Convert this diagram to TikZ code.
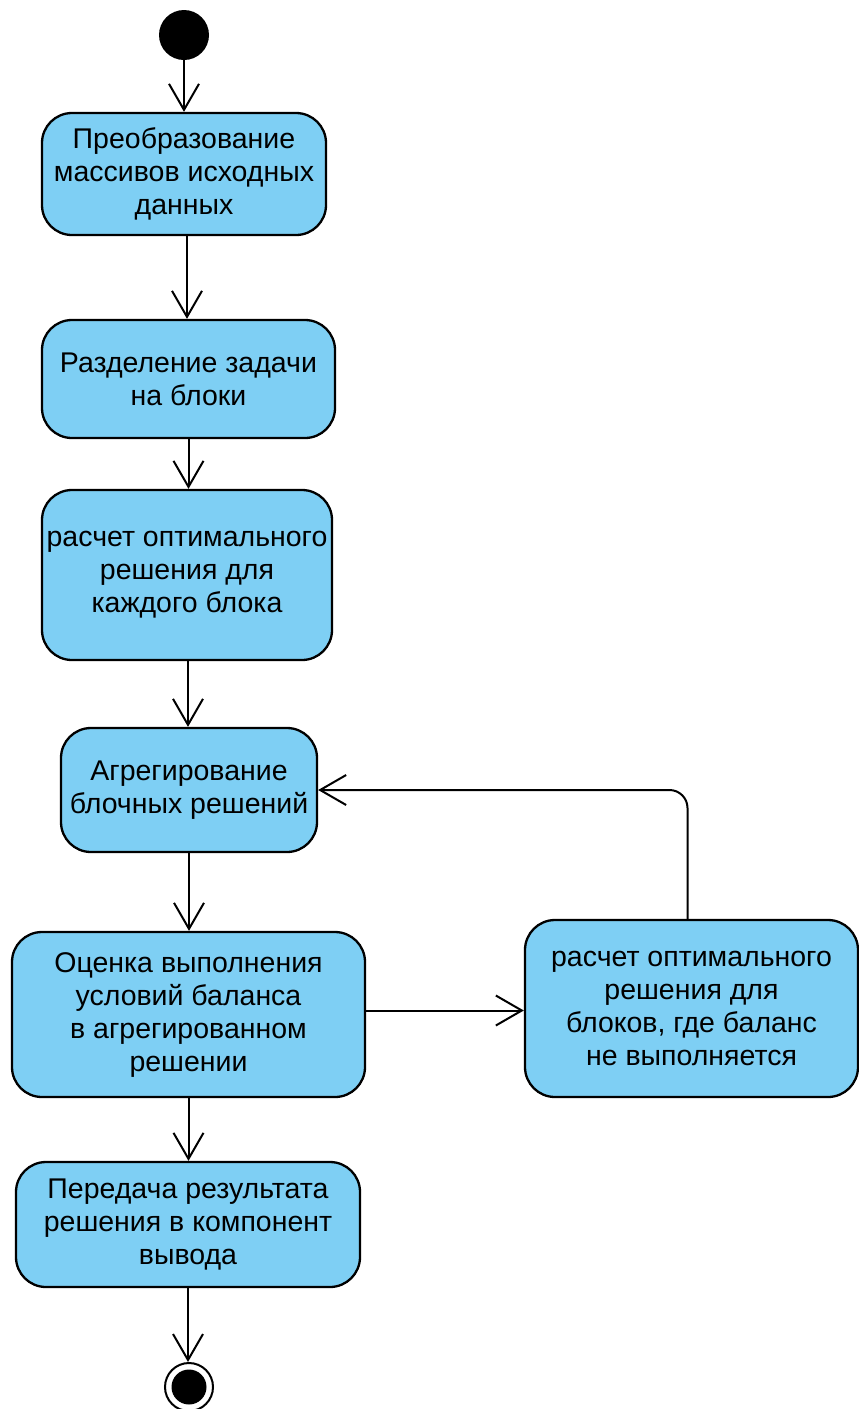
\documentclass[tikz,border=0pt]{standalone}
\usepackage{fontspec}
\setmainfont{Liberation Sans}
\usetikzlibrary{arrows.meta}
\definecolor{actfill}{RGB}{126,207,244}
\begin{document}
\begin{tikzpicture}[x=1pt,y=-1pt,
  act/.style={draw=black,line width=2.3pt,fill=actfill,rounded corners=30pt,align=center,inner sep=0pt,font=\fontsize{28.5}{33}\selectfont},
  flow/.style={line width=2pt,-{Straight Barb[length=26pt,width=30pt]}}]
\useasboundingbox (0,0) rectangle (859,1409);
\node[circle,fill=black,minimum size=50pt,inner sep=0pt] (start) at (184,35) {};
\node[act,minimum width=284pt,minimum height=122pt] (b1) at (184,174) {Преобразование\\массивов исходных\\данных};
\node[act,minimum width=293pt,minimum height=118pt] (b2) at (188.5,379) {Разделение задачи\\на блоки};
\node[act,minimum width=290pt,minimum height=170pt] (b3) at (187,575) {расчет оптимального\\решения для\\каждого блока};
\node[act,minimum width=256pt,minimum height=124pt] (b4) at (189,790) {Агрегирование\\блочных решений};
\node[act,minimum width=353pt,minimum height=165pt] (b5) at (188.5,1014.5) {Оценка выполнения\\условий баланса\\в агрегированном\\решении};
\node[act,minimum width=333pt,minimum height=177pt] (b6) at (691.5,1008.5) {расчет оптимального\\решения для\\блоков, где баланс\\не выполняется};
\node[act,minimum width=344pt,minimum height=125pt] (b7) at (188,1224.5) {Передача результата\\решения в компонент\\вывода};
\node[circle,draw=black,line width=2pt,minimum size=48pt,inner sep=0pt] (end) at (189,1387) {};
\node[circle,fill=black,minimum size=35pt,inner sep=0pt] (endin) at (end) {};
\draw[flow] (start.south) -- (start.south |- b1.north);
\draw[flow] ([xshift=3pt]b1.south) -- ([xshift=3pt]b1.south |- b2.north);
\draw[flow] (b2.south) -- (b2.south |- b3.north);
\draw[flow] ([xshift=1pt]b3.south) -- ([xshift=1pt]b3.south |- b4.north);
\draw[flow] (b4.south) -- (b4.south |- b5.north);
\draw[flow] (b5.south) -- (b5.south |- b7.north);
\draw[flow] (b7.south) -- (b7.south |- end.north);
\draw[flow] ([yshift=4pt]b5.east) -- ([yshift=4pt]b5.east -| b6.west);
\draw[flow,rounded corners=18pt] ([xshift=-4pt]b6.north) |- (b4.east);
\end{tikzpicture}
\end{document}
